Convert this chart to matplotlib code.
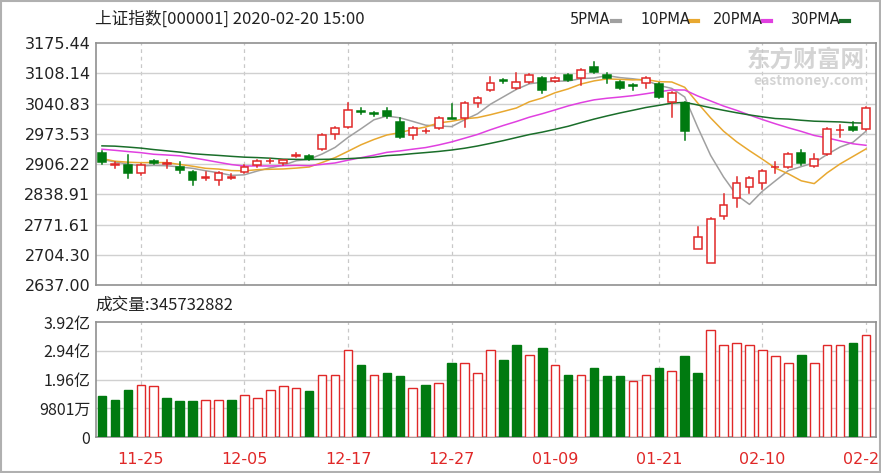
import matplotlib
matplotlib.use("Agg")
import matplotlib.pyplot as plt
import numpy as np
import pandas as pd
from matplotlib.patches import Rectangle

plt.rcParams['font.family'] = ['Noto Sans CJK SC', 'DejaVu Sans']

# ---- data ----
opens = [2930.7,2904.0,2904.0,2886.2,2912.9,2906.2,2899.5,2888.4,2876.0,2870.6,
         2876.0,2888.4,2904.0,2912.0,2908.4,2925.0,2924.0,2939.6,2973.0,2988.5,
         3022.5,3018.0,3024.1,2999.7,2970.7,2979.0,2986.3,3008.6,3008.6,3041.9,
         3070.9,3091.0,3075.3,3088.7,3097.6,3090.9,3104.2,3097.6,3122.0,3104.2,
         3088.7,3080.0,3086.4,3084.2,3044.2,3041.9,2716.7,2685.9,2790.5,2830.6,
         2855.0,2863.9,2899.0,2899.5,2930.7,2901.8,2928.5,2981.0,2988.5,2984.1]
highs = [2935.0,2910.0,2926.0,2906.0,2915.0,2915.0,2910.7,2891.0,2888.0,2888.0,
         2884.0,2904.0,2915.0,2917.0,2916.0,2930.0,2926.0,2972.0,2988.0,3041.9,
         3030.0,3022.0,3030.8,3008.6,2988.0,2984.0,3010.0,3039.7,3044.0,3055.0,
         3099.8,3095.0,3108.7,3106.0,3099.0,3099.0,3107.0,3117.0,3133.2,3108.7,
         3091.0,3084.0,3099.0,3087.0,3066.0,3044.0,2766.0,2787.0,2839.5,2877.3,
         2877.0,2893.0,2910.7,2930.0,2937.0,2928.5,2986.0,2993.0,2999.7,3033.0]
lows = [2906.0,2897.0,2875.0,2881.7,2906.0,2897.0,2886.0,2859.5,2870.6,2859.5,
        2872.0,2886.0,2899.5,2908.0,2904.0,2922.0,2915.0,2938.0,2961.8,2986.0,
        3017.0,3013.0,3008.6,2964.0,2961.8,2975.0,2984.0,3006.0,2988.5,3033.0,
        3069.0,3086.0,3073.0,3086.0,3064.2,3088.0,3091.0,3082.0,3109.0,3086.4,
        3073.0,3071.0,3075.3,3053.0,3010.8,2959.6,2717.0,2685.0,2783.8,2810.5,
        2841.7,2850.0,2886.2,2897.0,2904.0,2900.0,2926.0,2966.3,2980.0,2982.0]
closes = [2910.7,2906.0,2886.2,2904.0,2908.4,2907.0,2892.9,2870.6,2877.3,2886.2,
          2877.3,2899.5,2912.9,2913.0,2915.1,2926.2,2917.3,2970.7,2986.3,3026.4,
          3021.9,3017.5,3013.0,2966.3,2986.3,2979.6,3008.6,3006.3,3041.9,3053.1,
          3086.4,3090.9,3088.7,3104.2,3070.9,3097.6,3093.1,3115.4,3110.9,3097.6,
          3075.3,3079.8,3097.6,3055.3,3064.2,2979.6,2743.8,2783.8,2815.0,2863.9,
          2875.1,2890.6,2899.5,2928.5,2908.4,2917.3,2984.1,2981.9,2981.9,3030.8]
prior_closes = [2925,2947,2973,3007,2991,2978,2977,2938,2940,2939,2954,2941,2954,2980,
                2939,2929,2958,2975,2991,2978,2964,2909,2914,2905,2909,2933,2911,2924,2903]
volumes = [1.39,1.27,1.61,1.78,1.73,1.33,1.22,1.22,1.27,1.27,
           1.27,1.44,1.33,1.61,1.73,1.67,1.56,2.12,2.12,2.98,
           2.47,2.12,2.18,2.07,1.67,1.78,1.84,2.52,2.52,2.18,
           2.98,2.64,3.15,2.81,3.03,2.47,2.12,2.12,2.35,2.07,
           2.07,1.90,2.12,2.35,2.24,2.75,2.18,3.66,3.15,3.20,
           3.15,2.98,2.75,2.52,2.81,2.52,3.15,3.15,3.20,3.49]  # 亿
vol_up = "DDDUUDDDUUDUUUUUDUUUDUDDUDUDUUUDDUDUDUDDDUUDUDDUUUUUUUDUUUDU"
tick_idx = [3, 11, 19, 27, 35, 43, 51, 59]
tick_labels = ['11-25', '12-05', '12-17', '12-27', '01-09', '01-21', '02-10', '02-20']
price_ticks = [3175.44, 3108.14, 3040.83, 2973.53, 2906.22, 2838.91, 2771.61, 2704.30, 2637.00]
vol_ticks = [0, 0.98, 1.96, 2.94, 3.92]
vol_tick_labels = ['0', '9801万', '1.96亿', '2.94亿', '3.92亿']
ma_periods = [5, 10, 20, 30]
ma_colors = ['#a0a0a0', '#e8a830', '#e040e0', '#1a6e2a']

RED = '#e02828'
GREEN = '#007a10'
W, H = 881, 473
fig = plt.figure(figsize=(W/100, H/100), dpi=100)
fig.patch.set_facecolor('white')

def ax_rect(x0, y0, x1, y1):
    return [x0/W, 1-y1/H, (x1-x0)/W, (y1-y0)/H]

ax = fig.add_axes(ax_rect(96, 43, 876, 285))
axv = fig.add_axes(ax_rect(96, 322, 876, 437))

n = len(closes)
xs = np.arange(n)
allc = pd.Series(prior_closes + closes)
for p, c in zip(ma_periods, ma_colors):
    ma = allc.rolling(p, min_periods=1).mean().values[len(prior_closes):]
    ax.plot(xs, ma, color=c, lw=1.1, zorder=2)

bw = 0.6
for i in range(n):
    o, h, l, c = opens[i], highs[i], lows[i], closes[i]
    up = c >= o
    col = RED if up else GREEN
    top, bot = max(o, c), min(o, c)
    ax.plot([i, i], [top, h], color=col, lw=1.1, zorder=3)
    ax.plot([i, i], [l, bot], color=col, lw=1.1, zorder=3)
    hgt = max(top - bot, 1.2)
    ax.add_patch(Rectangle((i - bw/2, bot), bw, hgt, facecolor='white' if up else GREEN,
                           edgecolor=col, lw=1.1, zorder=4))

for i in range(n):
    up = vol_up[i] == 'U'
    col = RED if up else GREEN
    axv.bar(i, volumes[i], width=0.66, color='white' if up else GREEN, edgecolor=col, lw=1.0, zorder=3)

for a in (ax, axv):
    a.set_xlim(-0.46, 59.77)
    a.set_xticks([])
    for t in tick_idx:
        a.axvline(t, color='#c8c8c8', lw=0.9, ls=(0, (3, 3)), zorder=1)
    for s in a.spines.values():
        s.set_color('#909090'); s.set_linewidth(1.2)
    a.tick_params(axis='y', length=0, labelsize=11.5, pad=4, labelcolor='#222222')

ax.set_ylim(2637, 3175.44)
ax.set_yticks(price_ticks)
ax.set_yticklabels([f'{v:.2f}' for v in price_ticks], family='DejaVu Sans')
for v in price_ticks[1:-1]:
    ax.axhline(v, color='#d0d0d0', lw=1.0, zorder=1)

axv.set_ylim(0, 3.92)
axv.set_yticks(vol_ticks)
axv.set_yticklabels(vol_tick_labels)
for v in vol_ticks[1:-1]:
    axv.axhline(v, color='#d0d0d0', lw=1.0, zorder=1)

for t, lab in zip(tick_idx, tick_labels):
    axv.text(t, -0.13, lab, transform=axv.get_xaxis_transform(), ha='center', va='top',
             color=RED, fontsize=11.5, family='DejaVu Sans')

fig.text(95/W, 1-19/H, '上证指数[000001] 2020-02-20 15:00', fontsize=12, va='center', ha='left', color='#222222')
fig.text(95/W, 1-305/H, '成交量:345732882', fontsize=12, va='center', ha='left', color='#222222')

# legend
leg_x = [570, 640, 713, 791]
for x0, p, c in zip(leg_x, ma_periods, ma_colors):
    t = fig.text(x0/W, 1-20/H, f'{p}PMA', fontsize=10.5, va='center', ha='left', color='#222222', family='DejaVu Sans')
    xe = x0 + (42 if p < 10 else 50)
    fig.add_artist(plt.Line2D([xe/W, (xe+8)/W], [1-21/H, 1-21/H], color=c, lw=3))

ax.text(0.985, 0.93, '东方财富网', transform=ax.transAxes, ha='right', va='center',
        fontsize=17, color='#d4d4d4', fontweight='bold', zorder=0)
ax.text(0.985, 0.845, 'eastmoney.com', transform=ax.transAxes, ha='right', va='center',
        fontsize=10, color='#d4d4d4', fontweight='bold', zorder=0)

fig.add_artist(Rectangle((1/W, 1/H), 1-2/W, 1-2/H, transform=fig.transFigure,
                         fill=False, edgecolor='#b0b0b0', lw=1.5))
fig.savefig('out.png', dpi=100, facecolor='white')
